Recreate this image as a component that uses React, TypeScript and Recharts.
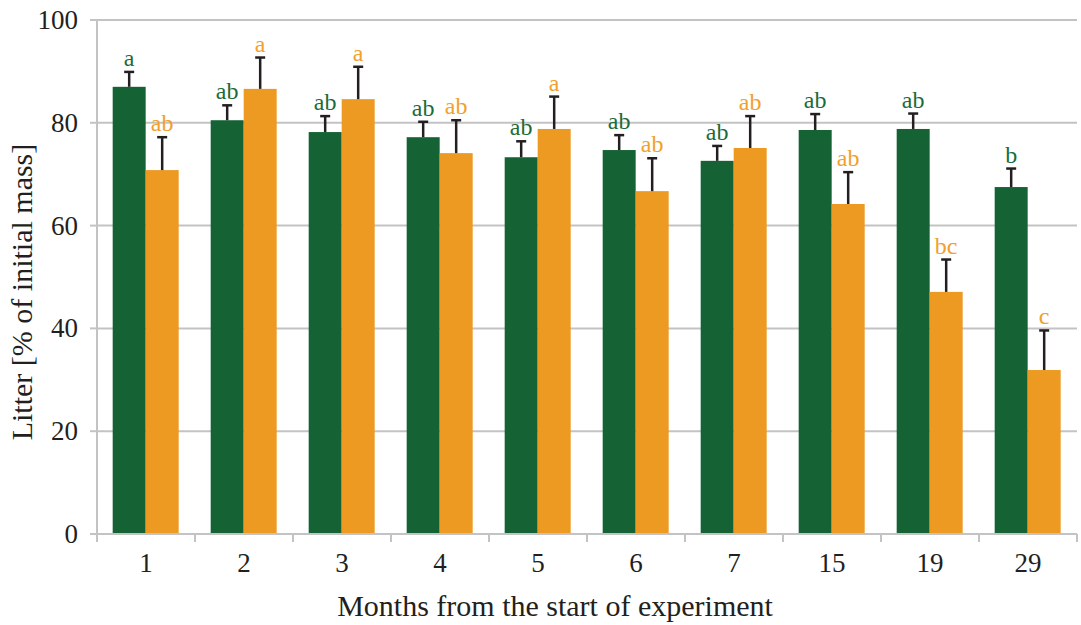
import React from 'react';
import { BarChart, Bar, XAxis, YAxis, CartesianGrid } from 'recharts';

// months since start of experiment
const months = ['1', '2', '3', '4', '5', '6', '7', '15', '19', '29'];

// litter remaining, % of initial mass
const greenValues = [87.0, 80.5, 78.2, 77.2, 73.3, 74.7, 72.6, 78.6, 78.8, 67.5];
const greenErrors = [2.9, 2.9, 3.1, 3.0, 3.1, 2.9, 2.9, 3.1, 3.0, 3.6];
const greenLetters = ['a', 'ab', 'ab', 'ab', 'ab', 'ab', 'ab', 'ab', 'ab', 'b'];

const orangeValues = [70.8, 86.6, 84.6, 74.1, 78.8, 66.7, 75.1, 64.2, 47.1, 31.9];
const orangeErrors = [6.4, 6.1, 6.3, 6.4, 6.3, 6.4, 6.2, 6.2, 6.3, 7.7];
const orangeLetters = ['ab', 'a', 'a', 'ab', 'a', 'ab', 'ab', 'ab', 'bc', 'c'];

const yTicks = [0, 20, 40, 60, 80, 100];

const data = months.map((m, i) => ({
  month: m,
  green: greenValues[i],
  greenErr: greenErrors[i],
  greenLetter: greenLetters[i],
  orange: orangeValues[i],
  orangeErr: orangeErrors[i],
  orangeLetter: orangeLetters[i],
}));

const FONT = '"Liberation Serif", "Times New Roman", serif';
const GREEN = '#156335';
const ORANGE = '#ec9a22';
const GREEN_TEXT = '#1b6b3a';
const ORANGE_TEXT = '#f0a02c';
const GRID = '#c3c3c6';
const INK = '#231f20';

// bar + one-sided error bar + significance letter
const makeShape = (key: string, letterColor: string) => (props: any) => {
  const { x, y, width, height, fill, payload } = props;
  const v = payload[key];
  const err = payload[key + 'Err'];
  const pxPerUnit = v ? height / v : 0;
  const cx = x + width / 2;
  const top = y - err * pxPerUnit;
  return (
    <g>
      <rect x={x} y={y} width={width} height={height} fill={fill} />
      <line x1={cx} x2={cx} y1={y} y2={top} stroke={INK} strokeWidth={2.5} />
      <line x1={cx - 5} x2={cx + 5} y1={top} y2={top} stroke={INK} strokeWidth={2.5} />
      <text
        x={cx}
        y={top - 6}
        textAnchor="middle"
        style={{ fontFamily: FONT, fontSize: 24 }}
        fill={letterColor}
      >
        {payload[key + 'Letter']}
      </text>
    </g>
  );
};

const XTick = (props: any) => {
  const { x, y, payload, index } = props;
  const half = payload && payload.offset > 0 ? payload.offset : 49;
  return (
    <g>
      <line x1={x - half} x2={x - half} y1={y} y2={y + 8} stroke={GRID} strokeWidth={2} />
      {index === months.length - 1 && (
        <line x1={x + half} x2={x + half} y1={y} y2={y + 8} stroke={GRID} strokeWidth={2} />
      )}
      <text x={x} y={y + 38} textAnchor="middle" style={{ fontFamily: FONT, fontSize: 27 }} fill={INK}>
        {payload.value}
      </text>
    </g>
  );
};

const YTick = (props: any) => {
  const { x, y, payload } = props;
  return (
    <text x={x} y={y + 9} textAnchor="end" style={{ fontFamily: FONT, fontSize: 27 }} fill={INK}>
      {payload.value}
    </text>
  );
};

export default function App() {
  return (
    <div
      style={{
        position: 'absolute',
        left: 0,
        top: 0,
        width: 1081,
        height: 625,
        background: '#fff',
        fontFamily: FONT,
      }}
    >
      <BarChart
        width={1081}
        height={625}
        data={data}
        margin={{ top: 20, right: 4, bottom: 61, left: 37 }}
        barCategoryGap="16%"
        barGap={0}
      >
        <CartesianGrid vertical={false} stroke={GRID} strokeWidth={2} />
        <XAxis
          dataKey="month"
          height={30}
          axisLine={{ stroke: GRID, strokeWidth: 2 }}
          tickLine={false}
          tickSize={0}
          tickMargin={0}
          tick={<XTick />}
          interval={0}
        />
        <YAxis
          width={60}
          domain={[0, 100]}
          ticks={yTicks}
          axisLine={{ stroke: GRID, strokeWidth: 2 }}
          tickLine={{ stroke: GRID, strokeWidth: 2 }}
          tickSize={7}
          tickMargin={12}
          tick={<YTick />}
        />
        <Bar dataKey="green" fill={GREEN} isAnimationActive={false} shape={makeShape('green', GREEN_TEXT)} />
        <Bar dataKey="orange" fill={ORANGE} isAnimationActive={false} shape={makeShape('orange', ORANGE_TEXT)} />
      </BarChart>
      <div
        style={{
          position: 'absolute',
          left: 555,
          top: 606,
          transform: 'translate(-50%, -50%)',
          fontSize: 30,
          color: INK,
          whiteSpace: 'nowrap',
        }}
      >
        Months from the start of experiment
      </div>
      <div
        style={{
          position: 'absolute',
          left: 22,
          top: 292,
          transform: 'translate(-50%, -50%) rotate(-90deg)',
          fontSize: 30,
          color: INK,
          whiteSpace: 'nowrap',
        }}
      >
        Litter [% of initial mass]
      </div>
    </div>
  );
}
